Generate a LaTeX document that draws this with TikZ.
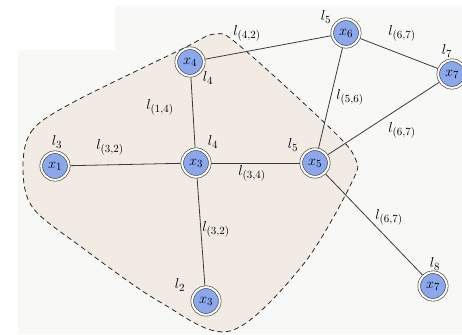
\documentclass[tikz,border=0pt]{standalone}
\usetikzlibrary{calc}
\DeclareMathSizes{13.5}{13.5}{10.5}{8}
\definecolor{nodeblue}{HTML}{8CA8EC}
\definecolor{edgegray}{HTML}{3A3A3A}
\definecolor{regionfill}{HTML}{F2EBE3}
\definecolor{paper}{HTML}{F8F8F6}
\begin{document}
\begin{tikzpicture}[x=1pt,y=-1pt,
  var/.style={circle,draw=edgegray,fill=nodeblue,line width=0.6pt,
    double=white,double distance=2pt,minimum size=27.6pt,inner sep=0pt,
    outer sep=1.6pt,font=\fontsize{13.5}{15}\selectfont},
  lbl/.style={inner sep=0pt,font=\fontsize{13.5}{15}\selectfont},
  link/.style={draw=edgegray,line width=0.8pt},
  region/.style={draw=black!85,dashed,dash pattern=on 5pt off 3.5pt,line width=0.8pt,fill=regionfill}]
  \useasboundingbox (0,0) rectangle (462,334);
  \clip (0,0) rectangle (462,334);
  % paper tone
  \fill[white] (0,0) rectangle (462,334);
  \fill[paper] (18,50) -| (115,6) -| (462,334) -| cycle;
  % shaded cluster
  \path[region] plot[smooth cycle,tension=0.55] coordinates {
    (23,170) (31,132) (70,104) (180,50) (215,34) (240,46) (330,128)
    (355,158) (352,182) (302,266) (230,331) (160,302) (80,246) (33,208)};
  % variables
  \node[var] (x4) at (190,62) {$x_4$};
  \node[var] (x6) at (346,33) {$x_6$};
  \node[var] (x7a) at (452,74) {$x_7$};
  \node[var] (x1) at (55,166) {$x_1$};
  \node[var] (x3) at (196,163) {$x_3$};
  \node[var] (x5) at (315,163) {$x_5$};
  \node[var] (x3b) at (206,301) {$x_3$};
  \node[var] (x7b) at (433,286) {$x_7$};
  % links
  \path[link] (x4) -- (x3);
  \path[link] (x4) -- (x6);
  \path[link] (x1) -- (x3);
  \path[link] (x3) -- (x5);
  \path[link] (x3) -- (x3b);
  \path[link] (x6) -- (x5);
  \path[link] (x6) -- (x7a);
  \path[link] (x7a) -- (x5);
  \path[link] (x5) -- (x7b);
  % labels
  \node[lbl] (n3) at (57,142) {$l_3$};
  \node[lbl] (e32a) at (110,147) {$l_{(3,2)}$};
  \node[lbl] (e14) at (160,107) {$l_{(1,4)}$};
  \node[lbl] (n4a) at (208,78) {$l_4$};
  \node[lbl] (n4b) at (213,142) {$l_4$};
  \node[lbl] (e42) at (247,33) {$l_{(4,2)}$};
  \node[lbl] (n5a) at (326,17) {$l_5$};
  \node[lbl] (e67a) at (402,33) {$l_{(6,7)}$};
  \node[lbl] (n7) at (447,51) {$l_7$};
  \node[lbl] (e56) at (350,97) {$l_{(5,6)}$};
  \node[lbl] (e67b) at (402,130) {$l_{(6,7)}$};
  \node[lbl] (n5b) at (293,145) {$l_5$};
  \node[lbl] (e34) at (252,173) {$l_{(3,4)}$};
  \node[lbl] (e67c) at (389,217) {$l_{(6,7)}$};
  \node[lbl] (n8) at (435,264) {$l_8$};
  \node[lbl] (e32b) at (216,229) {$l_{(3,2)}$};
  \node[lbl] (n2) at (180,285) {$l_2$};
\end{tikzpicture}
\end{document}
